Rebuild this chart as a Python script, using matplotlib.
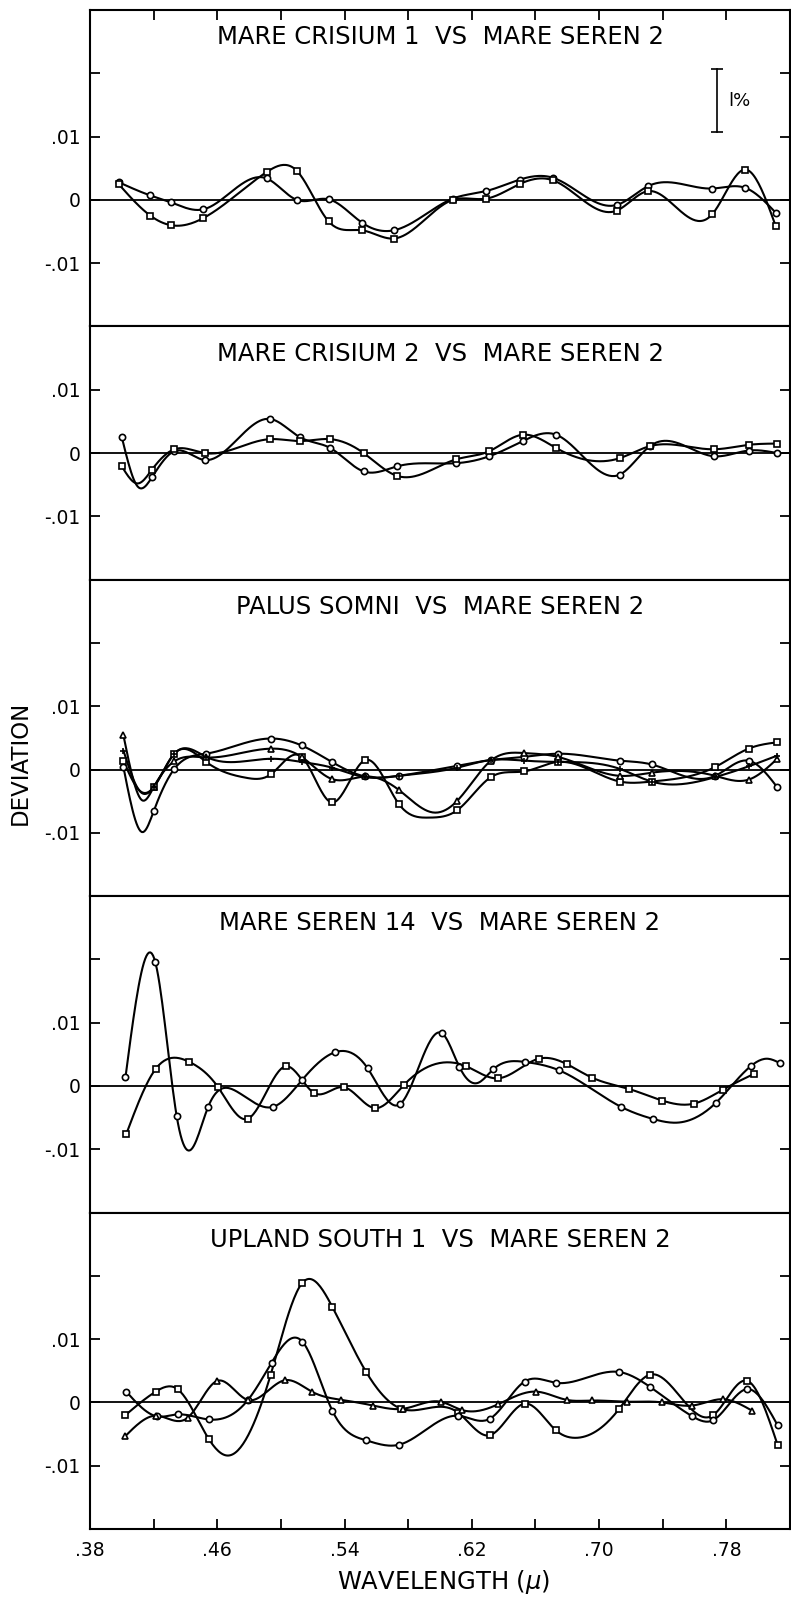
import numpy as np
import matplotlib
matplotlib.use('Agg')
import matplotlib.pyplot as plt
from matplotlib.gridspec import GridSpec

# ---- data (wavelength in microns, deviation) ----
titles = ['MARE CRISIUM 1  VS  MARE SEREN 2',
          'MARE CRISIUM 2  VS  MARE SEREN 2',
          'PALUS SOMNI  VS  MARE SEREN 2',
          'MARE SEREN 14  VS  MARE SEREN 2',
          'UPLAND SOUTH 1  VS  MARE SEREN 2']

x_ticks = [0.38, 0.42, 0.46, 0.50, 0.54, 0.58, 0.62, 0.66, 0.70, 0.74, 0.78]
x_ticklabels = ['.38', '', '.46', '', '.54', '', '.62', '', '.70', '', '.78']

# panel 1
p1_x = [0.398, 0.418, 0.431, 0.451, 0.491, 0.510, 0.530, 0.551, 0.571, 0.608,
        0.629, 0.650, 0.671, 0.711, 0.731, 0.771, 0.792, 0.811]
p1_circ = [0.0028, 0.0007, -0.0004, -0.0015, 0.0034, 0.0000, 0.0001, -0.0036, -0.0048, 0.0002,
           0.0014, 0.0032, 0.0035, -0.0008, 0.0022, 0.0018, 0.0019, -0.0020]
p1_sq = [0.0025, -0.0025, -0.0040, -0.0029, 0.0044, 0.0046, -0.0034, -0.0048, -0.0061, 0.0000,
         0.0002, 0.0025, 0.0031, -0.0017, 0.0014, -0.0023, 0.0048, -0.0041]

# panel 2
p2_x = [0.400, 0.419, 0.433, 0.452, 0.493, 0.512, 0.531, 0.552, 0.573, 0.610,
        0.631, 0.652, 0.673, 0.713, 0.732, 0.772, 0.794, 0.812]
p2_circ = [0.0025, -0.0038, 0.0003, -0.0011, 0.0054, 0.0025, 0.0008, -0.0029, -0.0021, -0.0016,
           -0.0005, 0.0019, 0.0029, -0.0034, 0.0011, -0.0005, 0.0004, 0.0000]
p2_sq = [-0.0021, -0.0026, 0.0006, 0.0000, 0.0022, 0.0019, 0.0022, 0.0000, -0.0036, -0.0010,
         0.0003, 0.0029, 0.0008, -0.0008, 0.0011, 0.0006, 0.0013, 0.0015]
p2_circ_bend = ([0.410], [-0.0053])
p2_sq_bend = ([0.410], [-0.0048])

# panel 3
p3_x = [0.401, 0.420, 0.433, 0.453, 0.494, 0.513, 0.532, 0.553, 0.574, 0.611,
        0.632, 0.653, 0.674, 0.713, 0.733, 0.773, 0.794, 0.812]
p3_circ = [0.0004, -0.0066, 0.0001, 0.0025, 0.0049, 0.0038, 0.0012, -0.0011, -0.0010, 0.0006,
           0.0015, 0.0020, 0.0025, 0.0014, 0.0008, -0.0010, 0.0014, -0.0028]
p3_sq = [0.0014, -0.0028, 0.0025, 0.0012, -0.0007, 0.0020, -0.0052, 0.0015, -0.0054, -0.0064,
         -0.0012, -0.0003, 0.0012, -0.0019, -0.0019, 0.0004, 0.0033, 0.0043]
p3_tri = [0.0054, -0.0028, 0.0013, 0.0019, 0.0033, 0.0020, -0.0015, -0.0011, -0.0032, -0.0049,
          0.0014, 0.0026, 0.0020, -0.0010, -0.0005, -0.0010, -0.0016, 0.0017]
p3_plus = [0.0030, -0.0028, 0.0025, 0.0020, 0.0017, 0.0012, 0.0003, -0.0012, -0.0010, 0.0003,
           0.0015, 0.0014, 0.0012, 0.0001, -0.0019, -0.0012, 0.0005, 0.0022]
p3_circ_bend = ([0.413], [-0.0099])
p3_sq_bend = ([0.412, 0.478, 0.593], [-0.0035, -0.0013, -0.0076])
p3_tri_bend = ([0.413, 0.596], [-0.0049, -0.0068])
p3_plus_bend = ([0.412], [-0.0036])

# panel 4
p4_circ_x = [0.4023, 0.4210, 0.4345, 0.4541, 0.4951, 0.5135, 0.5337, 0.5545, 0.5747, 0.6014,
             0.6122, 0.6333, 0.6532, 0.6746, 0.7138, 0.7337, 0.7733, 0.7952, 0.8137]
p4_circ = [0.0014, 0.0196, -0.0048, -0.0034, -0.0033, 0.0010, 0.0053, 0.0028, -0.0029, 0.0083,
           0.0030, 0.0026, 0.0038, 0.0025, -0.0033, -0.0052, -0.0027, 0.0031, 0.0036]
p4_circ_bend = ([0.4433, 0.4717, 0.6240, 0.7490, 0.8060], [-0.0101, -0.0008, 0.0005, -0.0058, 0.0043])
p4_sq_x = [0.4028, 0.4213, 0.4424, 0.4605, 0.4790, 0.5030, 0.5208, 0.5396, 0.5589, 0.5771,
           0.6166, 0.6362, 0.6620, 0.6801, 0.6957, 0.7191, 0.7396, 0.7595, 0.7777, 0.7973]
p4_sq = [-0.0076, 0.0027, 0.0038, -0.0002, -0.0052, 0.0031, -0.0011, -0.0002, -0.0035, 0.0001,
         0.0031, 0.0012, 0.0043, 0.0034, 0.0013, -0.0005, -0.0023, -0.0028, -0.0006, 0.0019]

# panel 5
p5_sq_x = [0.4023, 0.4213, 0.4350, 0.4547, 0.4936, 0.5135, 0.5323, 0.5536, 0.5756, 0.6113,
           0.6312, 0.6532, 0.6728, 0.7127, 0.7323, 0.7718, 0.7932, 0.8122]
p5_sq = [-0.0020, 0.0017, 0.0021, -0.0058, 0.0044, 0.0189, 0.0151, 0.0048, -0.0010, -0.0016,
         -0.0052, -0.0002, -0.0044, -0.0010, 0.0044, -0.0020, 0.0034, -0.0067]
p5_sq_bend = ([0.4664, 0.6847], [-0.0084, -0.0056])
p5_circ_x = [0.4028, 0.4219, 0.4350, 0.4547, 0.4790, 0.4942, 0.5135, 0.5323, 0.5536, 0.5741,
             0.6113, 0.6312, 0.6532, 0.6728, 0.7127, 0.7323, 0.7586, 0.7718, 0.7932, 0.8122]
p5_circ = [0.0017, -0.0022, -0.0019, -0.0027, 0.0003, 0.0063, 0.0096, -0.0013, -0.0060, -0.0067,
           -0.0021, -0.0026, 0.0033, 0.0031, 0.0048, 0.0024, -0.0022, -0.0028, 0.0021, -0.0036]
p5_tri_x = [0.4023, 0.4213, 0.4415, 0.4600, 0.4790, 0.5024, 0.5194, 0.5380, 0.5580, 0.5770,
            0.6005, 0.6137, 0.6365, 0.6605, 0.6796, 0.6957, 0.7176, 0.7396, 0.7586, 0.7777, 0.7961]
p5_tri = [-0.0053, -0.0021, -0.0024, 0.0034, 0.0004, 0.0035, 0.0017, 0.0004, -0.0005, -0.0010,
          0.0001, -0.0012, -0.0003, 0.0017, 0.0004, 0.0003, 0.0001, 0.0000, -0.0005, 0.0005, -0.0013]


def spline(x, y, n=500):
    # natural cubic spline, just for drawing the smooth hand-drawn curves
    x = np.asarray(x, float)
    y = np.asarray(y, float)
    k = len(x)
    h = np.diff(x)
    A = np.zeros((k, k))
    r = np.zeros(k)
    A[0, 0] = A[-1, -1] = 1
    for i in range(1, k - 1):
        A[i, i - 1] = h[i - 1]
        A[i, i] = 2 * (h[i - 1] + h[i])
        A[i, i + 1] = h[i]
        r[i] = 3 * ((y[i + 1] - y[i]) / h[i] - (y[i] - y[i - 1]) / h[i - 1])
    c = np.linalg.solve(A, r)
    b = (y[1:] - y[:-1]) / h - h * (2 * c[:-1] + c[1:]) / 3
    d = (c[1:] - c[:-1]) / (3 * h)
    xs = np.linspace(x[0], x[-1], n)
    i = np.clip(np.searchsorted(x, xs) - 1, 0, k - 2)
    t = xs - x[i]
    return xs, y[i] + b[i] * t + c[i] * t ** 2 + d[i] * t ** 3


def curve(ax, x, y, marker, bend=None, ms=4.5):
    cx, cy = list(x), list(y)
    if bend is not None:
        cx += bend[0]
        cy += bend[1]
    order = np.argsort(cx)
    xs, ys = spline(np.array(cx)[order], np.array(cy)[order])
    ax.plot(xs, ys, color='black', lw=1.5, zorder=3)
    ax.plot(x, y, ls='none', marker=marker, ms=ms, mfc='white', mec='black', mew=1.2, zorder=4)


fig = plt.figure(figsize=(7.91, 15.97), dpi=100)
gs = GridSpec(5, 1, figure=fig, height_ratios=[5, 4, 5, 5, 5], hspace=0,
              left=0.1138, right=0.9987, top=0.9937, bottom=0.0426)
axes = [fig.add_subplot(gs[i]) for i in range(5)]

curve(axes[0], p1_x, p1_circ, 'o')
curve(axes[0], p1_x, p1_sq, 's', ms=4)

curve(axes[1], p2_x, p2_circ, 'o', p2_circ_bend)
curve(axes[1], p2_x, p2_sq, 's', p2_sq_bend, ms=4)

curve(axes[2], p3_x, p3_circ, 'o', p3_circ_bend)
curve(axes[2], p3_x, p3_sq, 's', p3_sq_bend, ms=4)
curve(axes[2], p3_x, p3_tri, '^', p3_tri_bend, ms=4)
curve(axes[2], p3_x, p3_plus, '+', p3_plus_bend, ms=4)

curve(axes[3], p4_circ_x, p4_circ, 'o', p4_circ_bend)
curve(axes[3], p4_sq_x, p4_sq, 's', ms=4)

curve(axes[4], p5_sq_x, p5_sq, 's', p5_sq_bend, ms=4)
curve(axes[4], p5_circ_x, p5_circ, 'o')
curve(axes[4], p5_tri_x, p5_tri, '^', ms=4)

# 1% scale bar
axes[0].plot([0.774, 0.774], [0.0107, 0.0207], color='black', lw=1.2, marker='_', ms=8, mew=1.2)
axes[0].text(0.781, 0.0157, 'l%', fontsize=13, va='center', ha='left')

for k, ax in enumerate(axes):
    top = 0.02 if k == 1 else 0.03
    ax.set_xlim(0.38, 0.82)
    ax.set_ylim(-0.02, top)
    ax.axhline(0, color='black', lw=1.3, zorder=2)
    for s in ax.spines.values():
        s.set_linewidth(1.5)
    if k == 1:
        ax.set_yticks([-0.01, 0, 0.01])
        ax.set_yticklabels(['-.01', '0', '.01'])
    else:
        ax.set_yticks([-0.01, 0, 0.01, 0.02])
        ax.set_yticklabels(['-.01', '0', '.01', ''])
    ax.set_xticks(x_ticks)
    ax.set_xticklabels(x_ticklabels)
    ax.tick_params(direction='in', length=7, width=1.3, labelsize=13.5, pad=7)
    ax.tick_params(axis='y', left=True, right=True, labelleft=True)
    ax.tick_params(axis='x', top=(k == 0), bottom=(k == 4), labelbottom=(k == 4), pad=9)
    ax.annotate(titles[k], xy=(0.5, 1), xycoords='axes fraction', xytext=(0, -19.5),
                textcoords='offset points', ha='center', va='center', fontsize=17.5)

fig.text(20 / 791, 1 - 763 / 1597, 'DEVIATION', rotation=90, ha='center', va='center', fontsize=16.5)
fig.text(444 / 791, 1 - 1582 / 1597, r'WAVELENGTH ($\mu$)', ha='center', va='center', fontsize=17.5)

fig.savefig('out.png', dpi=100)
